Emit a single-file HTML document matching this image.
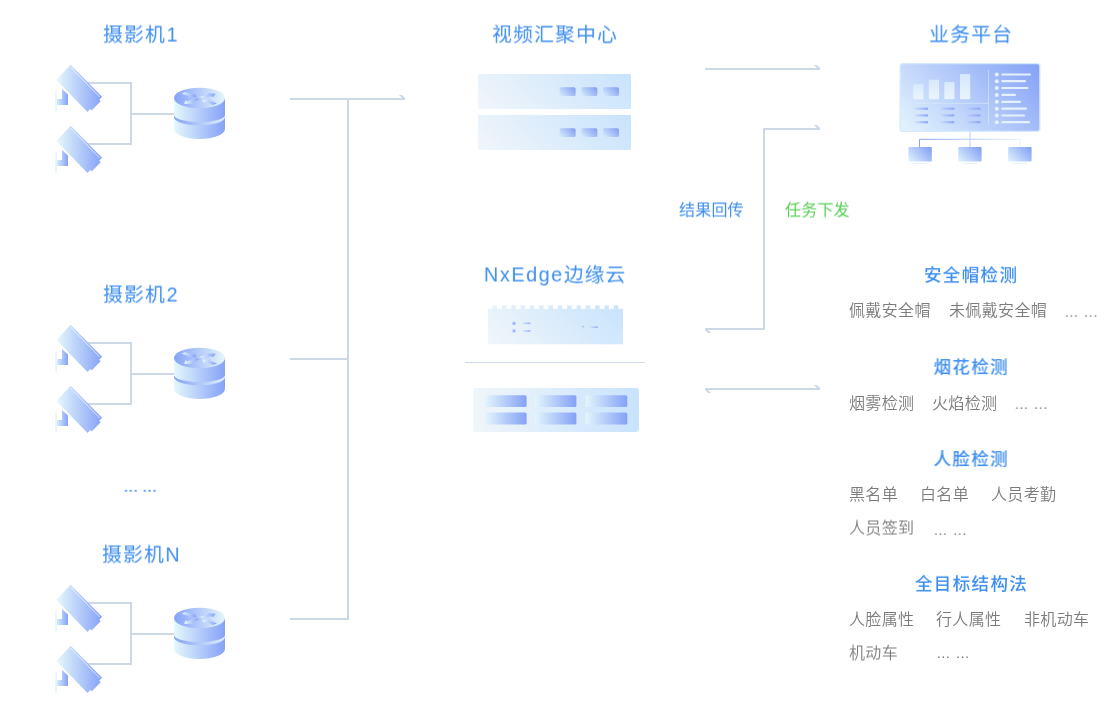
<!DOCTYPE html>
<html lang="zh-CN">
<head>
<meta charset="utf-8">
<title>视频汇聚中心 · NxEdge边缘云</title>
<style>
html,body{margin:0;padding:0;background:#ffffff;}
body{width:1110px;height:720px;position:relative;overflow:hidden;font-family:"Liberation Sans","Noto Sans CJK SC",sans-serif;}
.t{position:absolute;white-space:nowrap;line-height:24px;height:24px;will-change:transform;}
</style>
</head>
<body>
<svg width="1110" height="720" viewBox="0 0 1110 720" style="position:absolute;left:0;top:0">
<defs>
<linearGradient id="gCam" gradientUnits="userSpaceOnUse" x1="56.5" y1="0" x2="102" y2="0"><stop offset="0" stop-color="#e6f8fc"/><stop offset="1" stop-color="#86a2f7"/></linearGradient>
<linearGradient id="gArm" gradientUnits="userSpaceOnUse" x1="55" y1="0" x2="68" y2="0"><stop offset="0" stop-color="#e6f8fc"/><stop offset="1" stop-color="#86a2f7"/></linearGradient>
<linearGradient id="gSide" gradientUnits="userSpaceOnUse" x1="174" y1="0" x2="225" y2="0"><stop offset="0" stop-color="#e4f8fc"/><stop offset="1" stop-color="#86a2f7"/></linearGradient>
<linearGradient id="gTop" gradientUnits="userSpaceOnUse" x1="174" y1="0" x2="225" y2="0"><stop offset="0" stop-color="#86a2f7"/><stop offset="1" stop-color="#e4f6fc"/></linearGradient>
<linearGradient id="gBand" gradientUnits="userSpaceOnUse" x1="174" y1="0" x2="225" y2="0"><stop offset="0" stop-color="#86a2f7"/><stop offset="1" stop-color="#dcefFc"/></linearGradient>
<linearGradient id="gArrowBB" x1="0" y1="0" x2="1" y2="0"><stop offset="0" stop-color="#e6f8fd"/><stop offset="1" stop-color="#819ef7"/></linearGradient>
<linearGradient id="gDot" x1="0" y1="0" x2="1" y2="1"><stop offset="0" stop-color="#c4d8fb"/><stop offset="1" stop-color="#7f9cf4"/></linearGradient>
<linearGradient id="gArrow" gradientUnits="userSpaceOnUse" x1="183" y1="0" x2="216" y2="0"><stop offset="0" stop-color="#d6e8fc"/><stop offset="0.45" stop-color="#a9c1f9"/><stop offset="0.55" stop-color="#e4f3fd"/><stop offset="1" stop-color="#a9c1f9"/></linearGradient>
<linearGradient id="gSrv" x1="0" y1="1" x2="1" y2="0"><stop offset="0" stop-color="#f0f6fa"/><stop offset="1" stop-color="#c8e3fd"/></linearGradient>
<linearGradient id="gBtn" x1="0" y1="1" x2="1" y2="0"><stop offset="0" stop-color="#d9edfc"/><stop offset="1" stop-color="#7f9bf3"/></linearGradient>
<linearGradient id="gSrvH" x1="0" y1="0" x2="1" y2="0"><stop offset="0" stop-color="#f0f6fa"/><stop offset="1" stop-color="#c8e3fd"/></linearGradient>
<linearGradient id="gCell" x1="0" y1="0" x2="1" y2="0"><stop offset="0" stop-color="#e4f6fc"/><stop offset="1" stop-color="#84a1f6"/></linearGradient>
<linearGradient id="gScr" x1="0" y1="1" x2="1" y2="0"><stop offset="0" stop-color="#dff2fd"/><stop offset="1" stop-color="#7f9df5"/></linearGradient>
<linearGradient id="gMon" x1="0" y1="1" x2="1" y2="0"><stop offset="0" stop-color="#dff2fd"/><stop offset="1" stop-color="#7f9df5"/></linearGradient>
<linearGradient id="gBar" x1="0" y1="0" x2="0" y2="1"><stop offset="0" stop-color="#d9ebfd"/><stop offset="1" stop-color="#eef6fd"/></linearGradient>
<linearGradient id="gDash" x1="0" y1="0" x2="1" y2="0"><stop offset="0" stop-color="#8aa6f6" stop-opacity="0"/><stop offset="1" stop-color="#8aa6f6"/></linearGradient>
<linearGradient id="gStand" gradientUnits="userSpaceOnUse" x1="919" y1="0" x2="1021" y2="0"><stop offset="0" stop-color="#86a2f7"/><stop offset="1" stop-color="#e4f6fc"/></linearGradient>
<linearGradient id="g45_1" gradientUnits="userSpaceOnUse" x1="478.00" y1="109.00" x2="572.00" y2="15.00"><stop offset="0" stop-color="#f1f6fa" stop-opacity="1"/><stop offset="1" stop-color="#c8e3fd" stop-opacity="1"/></linearGradient>
<linearGradient id="g45_2" gradientUnits="userSpaceOnUse" x1="559.60" y1="96.00" x2="572.00" y2="83.60"><stop offset="0" stop-color="#d9eefc" stop-opacity="1"/><stop offset="1" stop-color="#7f9bf3" stop-opacity="1"/></linearGradient>
<linearGradient id="g45_3" gradientUnits="userSpaceOnUse" x1="581.30" y1="96.00" x2="593.70" y2="83.60"><stop offset="0" stop-color="#d9eefc" stop-opacity="1"/><stop offset="1" stop-color="#7f9bf3" stop-opacity="1"/></linearGradient>
<linearGradient id="g45_4" gradientUnits="userSpaceOnUse" x1="603.00" y1="96.00" x2="615.40" y2="83.60"><stop offset="0" stop-color="#d9eefc" stop-opacity="1"/><stop offset="1" stop-color="#7f9bf3" stop-opacity="1"/></linearGradient>
<linearGradient id="g45_5" gradientUnits="userSpaceOnUse" x1="478.00" y1="150.00" x2="572.00" y2="56.00"><stop offset="0" stop-color="#f1f6fa" stop-opacity="1"/><stop offset="1" stop-color="#c8e3fd" stop-opacity="1"/></linearGradient>
<linearGradient id="g45_6" gradientUnits="userSpaceOnUse" x1="559.60" y1="137.00" x2="572.00" y2="124.60"><stop offset="0" stop-color="#d9eefc" stop-opacity="1"/><stop offset="1" stop-color="#7f9bf3" stop-opacity="1"/></linearGradient>
<linearGradient id="g45_7" gradientUnits="userSpaceOnUse" x1="581.30" y1="137.00" x2="593.70" y2="124.60"><stop offset="0" stop-color="#d9eefc" stop-opacity="1"/><stop offset="1" stop-color="#7f9bf3" stop-opacity="1"/></linearGradient>
<linearGradient id="g45_8" gradientUnits="userSpaceOnUse" x1="603.00" y1="137.00" x2="615.40" y2="124.60"><stop offset="0" stop-color="#d9eefc" stop-opacity="1"/><stop offset="1" stop-color="#7f9bf3" stop-opacity="1"/></linearGradient>
<linearGradient id="g45_9" gradientUnits="userSpaceOnUse" x1="488.00" y1="344.30" x2="574.90" y2="257.40"><stop offset="0" stop-color="#f1f6fa" stop-opacity="1"/><stop offset="1" stop-color="#c8e3fd" stop-opacity="1"/></linearGradient>
<linearGradient id="g45_10" gradientUnits="userSpaceOnUse" x1="900.80" y1="130.70" x2="1003.20" y2="28.30"><stop offset="0" stop-color="#e4f5fe" stop-opacity="1"/><stop offset="1" stop-color="#84a1f6" stop-opacity="1"/></linearGradient>
<linearGradient id="g45_11" gradientUnits="userSpaceOnUse" x1="908.40" y1="161.50" x2="927.30" y2="142.60"><stop offset="0" stop-color="#e2f4fd" stop-opacity="1"/><stop offset="1" stop-color="#7f9df5" stop-opacity="1"/></linearGradient>
<linearGradient id="g45_12" gradientUnits="userSpaceOnUse" x1="958.20" y1="161.50" x2="977.10" y2="142.60"><stop offset="0" stop-color="#e2f4fd" stop-opacity="1"/><stop offset="1" stop-color="#7f9df5" stop-opacity="1"/></linearGradient>
<linearGradient id="g45_13" gradientUnits="userSpaceOnUse" x1="1008.20" y1="161.50" x2="1027.10" y2="142.60"><stop offset="0" stop-color="#e2f4fd" stop-opacity="1"/><stop offset="1" stop-color="#7f9df5" stop-opacity="1"/></linearGradient>
</defs>

<g transform="translate(0,0)">
<path d="M80,83 H131 V144 H80 M131,114 H176" fill="none" stroke="#ccd8e6" stroke-width="2"/>
<g transform="translate(0,0)">
<rect x="55.2" y="91.5" width="1.7" height="20" fill="#e4f4fb"/>
<polygon points="57,99 62,99 62,89 68,94.6 68,105 57,105" fill="url(#gArm)"/>
<polygon points="70.7,64.8 102.1,96.8 99.3,99.8 100.7,101.2 91.6,110.5 90.3,109.1 87.5,111.9 56.4,80" fill="url(#gCam)"/>
<line x1="70.6" y1="67.2" x2="99.7" y2="97" stroke="#ffffff" stroke-opacity="0.9" stroke-width="0.7"/>
</g>
<g transform="translate(0,61)">
<rect x="55.2" y="91.5" width="1.7" height="20" fill="#e4f4fb"/>
<polygon points="57,99 62,99 62,89 68,94.6 68,105 57,105" fill="url(#gArm)"/>
<polygon points="70.7,64.8 102.1,96.8 99.3,99.8 100.7,101.2 91.6,110.5 90.3,109.1 87.5,111.9 56.4,80" fill="url(#gCam)"/>
<line x1="70.6" y1="67.2" x2="99.7" y2="97" stroke="#ffffff" stroke-opacity="0.9" stroke-width="0.7"/>
</g>
<g transform="translate(0,0)">
<path d="M174,117.3 L174,129 A25.5,10 0 0 0 225,129 L225,117.3 Z" fill="url(#gSide)"/>
<path d="M174,115.2 L174,117.3 A25.5,8 0 0 0 225,117.3 L225,115.2 Z" fill="url(#gBand)"/>
<path d="M174,98 L174,115.25 A25.5,6.7 0 0 0 225,115.25 L225,98 Z" fill="url(#gSide)"/>
<ellipse cx="199.5" cy="98" rx="25.5" ry="10.2" fill="url(#gTop)"/>
<g fill="url(#gArrowBB)">
<polygon points="181.65,93.82 189.53,96.28 187.69,97.23 196.74,97.14 194.77,93.60 192.92,94.55 185.04,92.08"/>
<polygon points="199.68,96.64 208.49,94.35 206.85,93.35 215.85,93.75 213.12,97.21 211.48,96.20 202.68,98.49"/>
<polygon points="199.68,99.48 191.19,102.88 193.31,103.73 184.30,104.08 185.18,100.47 187.30,101.32 195.79,97.93"/>
<polygon points="217.00,103.44 209.22,100.33 211.34,99.48 202.33,99.13 203.21,102.74 205.33,101.89 213.11,105.00"/>
</g>
</g>
</g>

<g transform="translate(0,260)">
<path d="M80,83 H131 V144 H80 M131,114 H176" fill="none" stroke="#ccd8e6" stroke-width="2"/>
<g transform="translate(0,0)">
<rect x="55.2" y="91.5" width="1.7" height="20" fill="#e4f4fb"/>
<polygon points="57,99 62,99 62,89 68,94.6 68,105 57,105" fill="url(#gArm)"/>
<polygon points="70.7,64.8 102.1,96.8 99.3,99.8 100.7,101.2 91.6,110.5 90.3,109.1 87.5,111.9 56.4,80" fill="url(#gCam)"/>
<line x1="70.6" y1="67.2" x2="99.7" y2="97" stroke="#ffffff" stroke-opacity="0.9" stroke-width="0.7"/>
</g>
<g transform="translate(0,61)">
<rect x="55.2" y="91.5" width="1.7" height="20" fill="#e4f4fb"/>
<polygon points="57,99 62,99 62,89 68,94.6 68,105 57,105" fill="url(#gArm)"/>
<polygon points="70.7,64.8 102.1,96.8 99.3,99.8 100.7,101.2 91.6,110.5 90.3,109.1 87.5,111.9 56.4,80" fill="url(#gCam)"/>
<line x1="70.6" y1="67.2" x2="99.7" y2="97" stroke="#ffffff" stroke-opacity="0.9" stroke-width="0.7"/>
</g>
<g transform="translate(0,0)">
<path d="M174,117.3 L174,129 A25.5,10 0 0 0 225,129 L225,117.3 Z" fill="url(#gSide)"/>
<path d="M174,115.2 L174,117.3 A25.5,8 0 0 0 225,117.3 L225,115.2 Z" fill="url(#gBand)"/>
<path d="M174,98 L174,115.25 A25.5,6.7 0 0 0 225,115.25 L225,98 Z" fill="url(#gSide)"/>
<ellipse cx="199.5" cy="98" rx="25.5" ry="10.2" fill="url(#gTop)"/>
<g fill="url(#gArrowBB)">
<polygon points="181.65,93.82 189.53,96.28 187.69,97.23 196.74,97.14 194.77,93.60 192.92,94.55 185.04,92.08"/>
<polygon points="199.68,96.64 208.49,94.35 206.85,93.35 215.85,93.75 213.12,97.21 211.48,96.20 202.68,98.49"/>
<polygon points="199.68,99.48 191.19,102.88 193.31,103.73 184.30,104.08 185.18,100.47 187.30,101.32 195.79,97.93"/>
<polygon points="217.00,103.44 209.22,100.33 211.34,99.48 202.33,99.13 203.21,102.74 205.33,101.89 213.11,105.00"/>
</g>
</g>
</g>

<g transform="translate(0,520)">
<path d="M80,83 H131 V144 H80 M131,114 H176" fill="none" stroke="#ccd8e6" stroke-width="2"/>
<g transform="translate(0,0)">
<rect x="55.2" y="91.5" width="1.7" height="20" fill="#e4f4fb"/>
<polygon points="57,99 62,99 62,89 68,94.6 68,105 57,105" fill="url(#gArm)"/>
<polygon points="70.7,64.8 102.1,96.8 99.3,99.8 100.7,101.2 91.6,110.5 90.3,109.1 87.5,111.9 56.4,80" fill="url(#gCam)"/>
<line x1="70.6" y1="67.2" x2="99.7" y2="97" stroke="#ffffff" stroke-opacity="0.9" stroke-width="0.7"/>
</g>
<g transform="translate(0,61)">
<rect x="55.2" y="91.5" width="1.7" height="20" fill="#e4f4fb"/>
<polygon points="57,99 62,99 62,89 68,94.6 68,105 57,105" fill="url(#gArm)"/>
<polygon points="70.7,64.8 102.1,96.8 99.3,99.8 100.7,101.2 91.6,110.5 90.3,109.1 87.5,111.9 56.4,80" fill="url(#gCam)"/>
<line x1="70.6" y1="67.2" x2="99.7" y2="97" stroke="#ffffff" stroke-opacity="0.9" stroke-width="0.7"/>
</g>
<g transform="translate(0,0)">
<path d="M174,117.3 L174,129 A25.5,10 0 0 0 225,129 L225,117.3 Z" fill="url(#gSide)"/>
<path d="M174,115.2 L174,117.3 A25.5,8 0 0 0 225,117.3 L225,115.2 Z" fill="url(#gBand)"/>
<path d="M174,98 L174,115.25 A25.5,6.7 0 0 0 225,115.25 L225,98 Z" fill="url(#gSide)"/>
<ellipse cx="199.5" cy="98" rx="25.5" ry="10.2" fill="url(#gTop)"/>
<g fill="url(#gArrowBB)">
<polygon points="181.65,93.82 189.53,96.28 187.69,97.23 196.74,97.14 194.77,93.60 192.92,94.55 185.04,92.08"/>
<polygon points="199.68,96.64 208.49,94.35 206.85,93.35 215.85,93.75 213.12,97.21 211.48,96.20 202.68,98.49"/>
<polygon points="199.68,99.48 191.19,102.88 193.31,103.73 184.30,104.08 185.18,100.47 187.30,101.32 195.79,97.93"/>
<polygon points="217.00,103.44 209.22,100.33 211.34,99.48 202.33,99.13 203.21,102.74 205.33,101.89 213.11,105.00"/>
</g>
</g>
</g>

<path d="M290,99 H405 M290,359 H348 M290,619 H349 M348,99 V620" fill="none" stroke="#ccd8e6" stroke-width="2"/>
<polygon points="398.9,94.9 402,94.9 405,98 405,99 402.8,99" fill="#ccd8e6"/>
<path d="M705,69 H820 M820,129 H764 V329 H705 M705,389 H820" fill="none" stroke="#ccd8e6" stroke-width="2"/>
<polygon points="813.9,64.9 817,64.9 820,68 820,69 817.8,69" fill="#ccd8e6"/>
<polygon points="813.9,124.9 817,124.9 820,128 820,129 817.8,129" fill="#ccd8e6"/>
<polygon points="813.9,384.9 817,384.9 820,388 820,389 817.8,389" fill="#ccd8e6"/>
<polygon points="711.2,333.1 708.1,333.1 705,330 705,329 707.2,329" fill="#ccd8e6"/>
<polygon points="711.2,393.1 708.1,393.1 705,390 705,389 707.2,389" fill="#ccd8e6"/>
<rect x="478" y="74" width="153" height="35" rx="1" fill="url(#g45_1)" />
<rect x="559.6" y="87.2" width="16" height="8.8" rx="1.6" fill="url(#g45_2)" />
<rect x="581.3" y="87.2" width="16" height="8.8" rx="1.6" fill="url(#g45_3)" />
<rect x="603" y="87.2" width="16" height="8.8" rx="1.6" fill="url(#g45_4)" />
<rect x="478" y="115" width="153" height="35" rx="1" fill="url(#g45_5)" />
<rect x="559.6" y="128.2" width="16" height="8.8" rx="1.6" fill="url(#g45_6)" />
<rect x="581.3" y="128.2" width="16" height="8.8" rx="1.6" fill="url(#g45_7)" />
<rect x="603" y="128.2" width="16" height="8.8" rx="1.6" fill="url(#g45_8)" />
<rect x="492.50" y="305.5" width="4.5" height="4" fill="url(#g45_9)"/><rect x="501.83" y="305.5" width="4.5" height="4" fill="url(#g45_9)"/><rect x="511.16" y="305.5" width="4.5" height="4" fill="url(#g45_9)"/><rect x="520.49" y="305.5" width="4.5" height="4" fill="url(#g45_9)"/><rect x="529.82" y="305.5" width="4.5" height="4" fill="url(#g45_9)"/><rect x="539.15" y="305.5" width="4.5" height="4" fill="url(#g45_9)"/><rect x="548.48" y="305.5" width="4.5" height="4" fill="url(#g45_9)"/><rect x="557.81" y="305.5" width="4.5" height="4" fill="url(#g45_9)"/><rect x="567.14" y="305.5" width="4.5" height="4" fill="url(#g45_9)"/><rect x="576.47" y="305.5" width="4.5" height="4" fill="url(#g45_9)"/><rect x="585.80" y="305.5" width="4.5" height="4" fill="url(#g45_9)"/><rect x="595.13" y="305.5" width="4.5" height="4" fill="url(#g45_9)"/><rect x="604.46" y="305.5" width="4.5" height="4" fill="url(#g45_9)"/><rect x="613.79" y="305.5" width="4.5" height="4" fill="url(#g45_9)"/>
<rect x="488" y="309" width="135" height="35.3" fill="url(#g45_9)"/>
<circle cx="513.9" cy="323.2" r="1.7" fill="url(#gDot)"/><circle cx="513.9" cy="330.8" r="1.7" fill="url(#gDot)"/>
<rect x="521.5" y="322.6" width="8.8" height="1.5" fill="url(#gDash)"/><rect x="521.5" y="330.2" width="8.8" height="1.5" fill="url(#gDash)"/>
<circle cx="582.9" cy="326.8" r="0.8" fill="#8aa6f6"/><rect x="589.3" y="326.5" width="8.6" height="1.4" fill="url(#gDash)"/>
<rect x="465" y="362" width="180" height="1" fill="#ccd8e6"/>
<rect x="473" y="388" width="166" height="44" rx="3" fill="url(#gSrvH)"/>
<rect x="484.8" y="395.2" width="41.8" height="11.9" rx="1.6" fill="url(#gCell)"/>
<rect x="484.8" y="412.6" width="41.8" height="11.9" rx="1.6" fill="url(#gCell)"/>
<rect x="534.6" y="395.2" width="41.8" height="11.9" rx="1.6" fill="url(#gCell)"/>
<rect x="534.6" y="412.6" width="41.8" height="11.9" rx="1.6" fill="url(#gCell)"/>
<rect x="585.5" y="395.2" width="41.8" height="11.9" rx="1.6" fill="url(#gCell)"/>
<rect x="585.5" y="412.6" width="41.8" height="11.9" rx="1.6" fill="url(#gCell)"/>
<rect x="899.5" y="63" width="141" height="69" rx="3" fill="#d6eafc"/>
<rect x="900.8" y="64.3" width="138.4" height="66.4" rx="2" fill="url(#g45_10)" />
<rect x="913.2" y="84.2" width="10.2" height="15.0" rx="1" fill="url(#gBar)" fill-opacity="0.92"/>
<rect x="928.8" y="79.8" width="10.2" height="19.4" rx="1" fill="url(#gBar)" fill-opacity="0.92"/>
<rect x="944.3" y="82" width="10.2" height="17.2" rx="1" fill="url(#gBar)" fill-opacity="0.92"/>
<rect x="960" y="74" width="10.2" height="25.2" rx="1" fill="url(#gBar)" fill-opacity="0.92"/>
<rect x="907.6" y="102.9" width="80.8" height="0.6" fill="#dcebfc"/>
<rect x="988.1" y="70.2" width="0.6" height="54.6" fill="#dcebfc"/>
<rect x="913.2" y="107.6" width="14.8" height="2.2" fill="url(#gDash)"/>
<rect x="913.2" y="114.3" width="14.8" height="2.2" fill="url(#gDash)"/>
<rect x="913.2" y="121.1" width="14.8" height="2.2" fill="url(#gDash)"/>
<rect x="939.5" y="107.6" width="14.8" height="2.2" fill="url(#gDash)"/>
<rect x="939.5" y="114.3" width="14.8" height="2.2" fill="url(#gDash)"/>
<rect x="939.5" y="121.1" width="14.8" height="2.2" fill="url(#gDash)"/>
<rect x="965.7" y="107.6" width="14.8" height="2.2" fill="url(#gDash)"/>
<rect x="965.7" y="114.3" width="14.8" height="2.2" fill="url(#gDash)"/>
<rect x="965.7" y="121.1" width="14.8" height="2.2" fill="url(#gDash)"/>
<circle cx="996.8" cy="74.5" r="2" fill="#e4f1fd"/><rect x="1001.3" y="73.4" width="29.7" height="2.2" rx="1" fill="#e4f1fd"/>
<circle cx="996.8" cy="81.2" r="2" fill="#e4f1fd"/><rect x="1001.3" y="80.1" width="24.7" height="2.2" rx="1" fill="#e4f1fd"/>
<circle cx="996.8" cy="88" r="2" fill="#e4f1fd"/><rect x="1001.3" y="86.9" width="27.2" height="2.2" rx="1" fill="#e4f1fd"/>
<circle cx="996.8" cy="94.9" r="2" fill="#e4f1fd"/><rect x="1001.3" y="93.8" width="14.7" height="2.2" rx="1" fill="#e4f1fd"/>
<circle cx="996.8" cy="101.8" r="2" fill="#e4f1fd"/><rect x="1001.3" y="100.7" width="19.7" height="2.2" rx="1" fill="#e4f1fd"/>
<circle cx="996.8" cy="108.7" r="2" fill="#e4f1fd"/><rect x="1001.3" y="107.6" width="25.7" height="2.2" rx="1" fill="#e4f1fd"/>
<circle cx="996.8" cy="115.5" r="2" fill="#e4f1fd"/><rect x="1001.3" y="114.4" width="23.7" height="2.2" rx="1" fill="#e4f1fd"/>
<circle cx="996.8" cy="122.2" r="2" fill="#e4f1fd"/><rect x="1001.3" y="121.1" width="28.7" height="2.2" rx="1" fill="#e4f1fd"/>
<path d="M970,132 V147.5 M919.5,147.5 V139.3 H1020 V147.5" fill="none" stroke="url(#gStand)" stroke-width="1"/>
<rect x="908.4" y="147.1" width="23.4" height="14.4" rx="0.8" fill="url(#g45_11)" />
<rect x="913.0" y="163.2" width="14.4" height="0.8" fill="#e0effc"/>
<rect x="958.2" y="147.1" width="23.4" height="14.4" rx="0.8" fill="url(#g45_12)" />
<rect x="962.8" y="163.2" width="14.4" height="0.8" fill="#e0effc"/>
<rect x="1008.2" y="147.1" width="23.4" height="14.4" rx="0.8" fill="url(#g45_13)" />
<rect x="1012.8" y="163.2" width="14.4" height="0.8" fill="#e0effc"/>
</svg>
<div class="t" style="left:103px;top:22px;transform:translate(0.1px,0.5px) rotate(0.02deg);font-size:19.8px;color:#3d8ef0;letter-spacing:1.2px;font-weight:400">摄影机<span style="margin-left:0.6px">1</span></div>
<div class="t" style="left:103px;top:282px;transform:translate(0.1px,0.5px) rotate(0.02deg);font-size:19.8px;color:#3d8ef0;letter-spacing:1.2px;font-weight:400">摄影机<span style="margin-left:0.6px">2</span></div>
<div class="t" style="left:102px;top:542px;transform:translate(0.1px,0.5px) rotate(0.02deg);font-size:19.8px;color:#3d8ef0;letter-spacing:1.2px;font-weight:400">摄影机<span style="margin-left:0.3px">N</span></div>
<div class="t" style="left:123px;top:473px;transform:translate(0.5px,0.8px) rotate(0.02deg);font-size:18px;color:#3d8ef0;letter-spacing:-0.15px;font-weight:400;word-spacing:-0.7px">... ...</div>
<div class="t" style="left:492px;top:22px;transform:translate(0.1px,0.5px) rotate(0.02deg);font-size:19.8px;color:#3d8ef0;letter-spacing:1.2px;font-weight:400">视频汇聚中心</div>
<div class="t" style="left:483px;top:262px;transform:translate(0.9px,0.5px) rotate(0.02deg);font-size:19.8px;color:#3d8ef0;letter-spacing:1.0px;font-weight:400"><span style="letter-spacing:1.6px">NxEdge</span>边缘云</div>
<div class="t" style="left:929px;top:22px;transform:translate(0.2px,0.5px) rotate(0.02deg);font-size:19.8px;color:#3d8ef0;letter-spacing:1.2px;font-weight:400">业务平台</div>
<div class="t" style="left:679px;top:198px;transform:translate(0px,0.5px) rotate(0.02deg);font-size:16px;color:#3d8ef0;letter-spacing:0.2px;font-weight:400">结果回传</div>
<div class="t" style="left:785px;top:198px;transform:translate(0px,0.5px) rotate(0.02deg);font-size:16px;color:#5ad05a;letter-spacing:0.2px;font-weight:400">任务下发</div>
<div class="t" style="left:924px;top:263px;transform:translate(0px,0.2px) rotate(0.02deg);font-size:17.5px;color:#3d8ef0;letter-spacing:1.35px;font-weight:500">安全帽检测</div>
<div class="t" style="left:933px;top:355px;transform:translate(0.6px,0.1px) rotate(0.02deg);font-size:17.5px;color:#3d8ef0;letter-spacing:1.35px;font-weight:500">烟花检测</div>
<div class="t" style="left:933px;top:447px;transform:translate(0.6px,0.1px) rotate(0.02deg);font-size:17.5px;color:#3d8ef0;letter-spacing:1.35px;font-weight:500">人脸检测</div>
<div class="t" style="left:915px;top:571px;transform:translate(0px,0.9px) rotate(0.02deg);font-size:17.5px;color:#3d8ef0;letter-spacing:1.35px;font-weight:500">全目标结构法</div>
<div class="t" style="left:849px;top:299px;font-size:16px;color:#7c7c7c;letter-spacing:0.35px;font-weight:350">佩戴安全帽</div>
<div class="t" style="left:949px;top:299px;font-size:16px;color:#7c7c7c;letter-spacing:0.35px;font-weight:350">未佩戴安全帽</div>
<div class="t" style="left:1064px;top:299px;transform:translate(0.8px,0.8px) rotate(0.02deg);font-size:15px;color:#7c7c7c;letter-spacing:0.38px;font-weight:400;word-spacing:1.1px">... ...</div>
<div class="t" style="left:849px;top:392px;font-size:16px;color:#7c7c7c;letter-spacing:0.35px;font-weight:350">烟雾检测</div>
<div class="t" style="left:932px;top:392px;font-size:16px;color:#7c7c7c;letter-spacing:0.35px;font-weight:350">火焰检测</div>
<div class="t" style="left:1014px;top:391px;transform:translate(0.8px,0.9px) rotate(0.02deg);font-size:15px;color:#7c7c7c;letter-spacing:0.38px;font-weight:400;word-spacing:1.1px">... ...</div>
<div class="t" style="left:849px;top:483px;font-size:16px;color:#7c7c7c;letter-spacing:0.35px;font-weight:350">黑名单</div>
<div class="t" style="left:920px;top:483px;font-size:16px;color:#7c7c7c;letter-spacing:0.35px;font-weight:350">白名单</div>
<div class="t" style="left:991px;top:483px;font-size:16px;color:#7c7c7c;letter-spacing:0.35px;font-weight:350">人员考勤</div>
<div class="t" style="left:849px;top:516px;transform:translate(0px,0.5px) rotate(0.02deg);font-size:16px;color:#7c7c7c;letter-spacing:0.35px;font-weight:350">人员签到</div>
<div class="t" style="left:933px;top:517px;transform:translate(0.8px,0.9px) rotate(0.02deg);font-size:15px;color:#7c7c7c;letter-spacing:0.38px;font-weight:400;word-spacing:1.1px">... ...</div>
<div class="t" style="left:849px;top:608px;font-size:16px;color:#7c7c7c;letter-spacing:0.35px;font-weight:350">人脸属性</div>
<div class="t" style="left:936px;top:608px;font-size:16px;color:#7c7c7c;letter-spacing:0.35px;font-weight:350">行人属性</div>
<div class="t" style="left:1024px;top:608px;font-size:16px;color:#7c7c7c;letter-spacing:0.35px;font-weight:350">非机动车</div>
<div class="t" style="left:849px;top:641px;transform:translate(0px,0.5px) rotate(0.02deg);font-size:16px;color:#7c7c7c;letter-spacing:0.35px;font-weight:350">机动车</div>
<div class="t" style="left:936px;top:641px;transform:translate(0.7px,0);font-size:15px;color:#7c7c7c;letter-spacing:0.38px;font-weight:400;word-spacing:1.1px">... ...</div>
</body>
</html>
